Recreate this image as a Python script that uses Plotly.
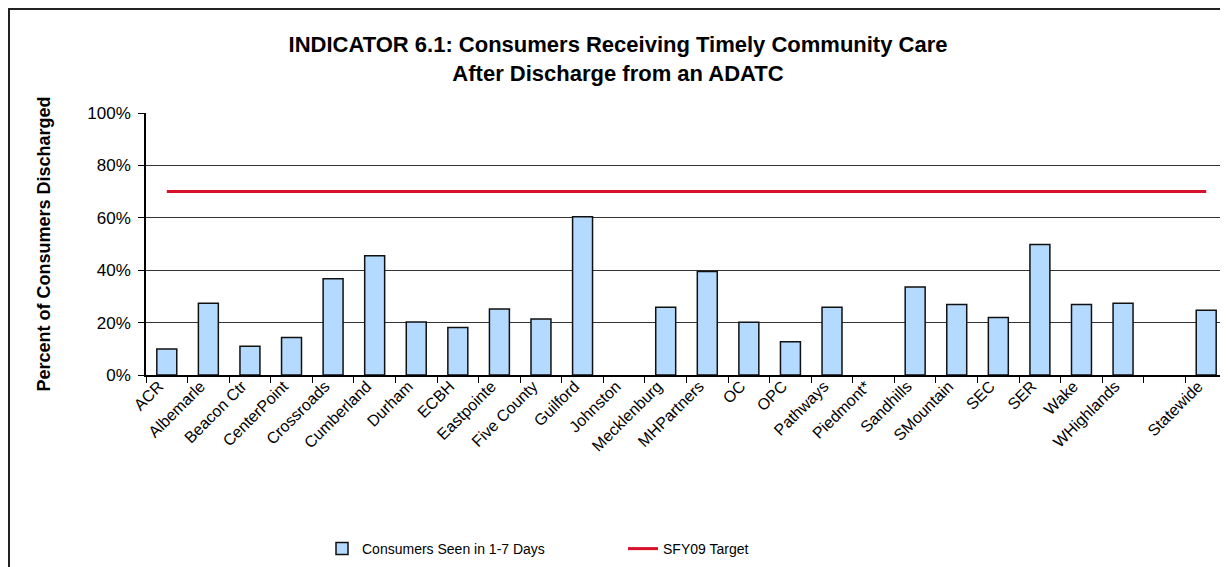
import plotly.graph_objects as go

categories = ["ACR", "Albemarle", "Beacon Ctr", "CenterPoint", "Crossroads", "Cumberland",
              "Durham", "ECBH", "Eastpointe", "Five County", "Guilford", "Johnston",
              "Mecklenburg", "MHPartners", "OC", "OPC", "Pathways", "Piedmont*",
              "Sandhills", "SMountain", "SEC", "SER", "Wake", "WHighlands", " ", "Statewide"]
seen_1_7_days = [9.9, 27.4, 11.0, 14.3, 36.7, 45.5,
                 20.2, 18.1, 25.2, 21.4, 60.4, None,
                 25.9, 39.5, 20.1, 12.7, 25.9, None,
                 33.6, 26.9, 21.9, 49.8, 26.9, 27.4, None, 24.7]
target = [70, 70, 70, 70, 70, 70, 70, 70, 70, 70, 70, 70, 70,
          70, 70, 70, 70, 70, 70, 70, 70, 70, 70, 70, 70, 70]
y_ticks = [0, 20, 40, 60, 80, 100]
y_tick_labels = ["0%", "20%", "40%", "60%", "80%", "100%"]

FONT = "Arial, 'Liberation Sans', sans-serif"

fig = go.Figure()
fig.add_trace(go.Bar(
    x=categories, y=seen_1_7_days, name="Consumers Seen in 1-7 Days",
    marker=dict(color="#B5DAFF", line=dict(color="#111111", width=1.5)),
))
fig.add_trace(go.Scatter(
    x=categories, y=target, name="SFY09 Target", mode="lines",
    line=dict(color="#D7102B", width=3),
))

# the page body adds an 8px margin, so the figure is laid out in page coords minus 8
OFF = 8
W, H = 1228 - OFF, 567 - OFF
L, R, T, B = 146 - OFF, 1, 113 - OFF, 192
pw = W - L - R
ph = H - T - B

fig.update_layout(
    width=W, height=H,
    margin=dict(l=L, r=R, t=T, b=B, autoexpand=False),
    paper_bgcolor="white", plot_bgcolor="white",
    font=dict(family=FONT, color="black"),
    bargap=0.52,
    title=dict(
        text="<b>INDICATOR 6.1: Consumers Receiving Timely Community Care<br>After Discharge from an ADATC</b>",
        x=(610 - L) / pw, xref="paper", xanchor="center",
        y=1 - 44 / H, yanchor="top",
        font=dict(size=22, family=FONT, color="black"),
    ),
    showlegend=True,
    legend=dict(
        orientation="h", x=(314 - L) / pw, xanchor="left",
        y=(H - B - (549 - OFF)) / ph, yanchor="middle",
        font=dict(size=14, family=FONT, color="black"),
        entrywidth=256, entrywidthmode="pixels",
        bgcolor="rgba(0,0,0,0)",
    ),
    xaxis=dict(
        type="category", tickangle=-45, tickson="boundaries",
        ticks="outside", ticklen=6, tickcolor="black", tickwidth=1.3,
        showline=True, linecolor="black", linewidth=1.5,
        showgrid=False, automargin=False,
        ticklabelshift=-8, ticklabelstandoff=-6,
        tickfont=dict(size=16, family=FONT, color="black"),
    ),
    yaxis=dict(
        range=[0, 100], tickmode="array", tickvals=y_ticks, ticktext=y_tick_labels,
        ticks="outside", ticklen=6, tickcolor="black", tickwidth=1.3,
        showline=True, linecolor="black", linewidth=1.5, mirror=True,
        showgrid=True, gridcolor="#333333", gridwidth=1,
        zeroline=False, automargin=False, ticklabelstandoff=4,
        tickfont=dict(size=17, family=FONT, color="black"),
        title=dict(text="<b>Percent of Consumers Discharged</b>", standoff=32,
                   font=dict(size=18, family=FONT, color="black")),
    ),
)

# outer chart frame (top and left edges visible; right/bottom fall outside the image)
fig.add_shape(type="rect", xref="paper", yref="paper",
              x0=(1 - L) / pw, x1=(W + 20 - L) / pw,
              y0=(H - B - (H + 20)) / ph, y1=(H - B - 1) / ph,
              line=dict(color="#222222", width=2), fillcolor="rgba(0,0,0,0)", layer="below")

fig.write_html("out.html")
